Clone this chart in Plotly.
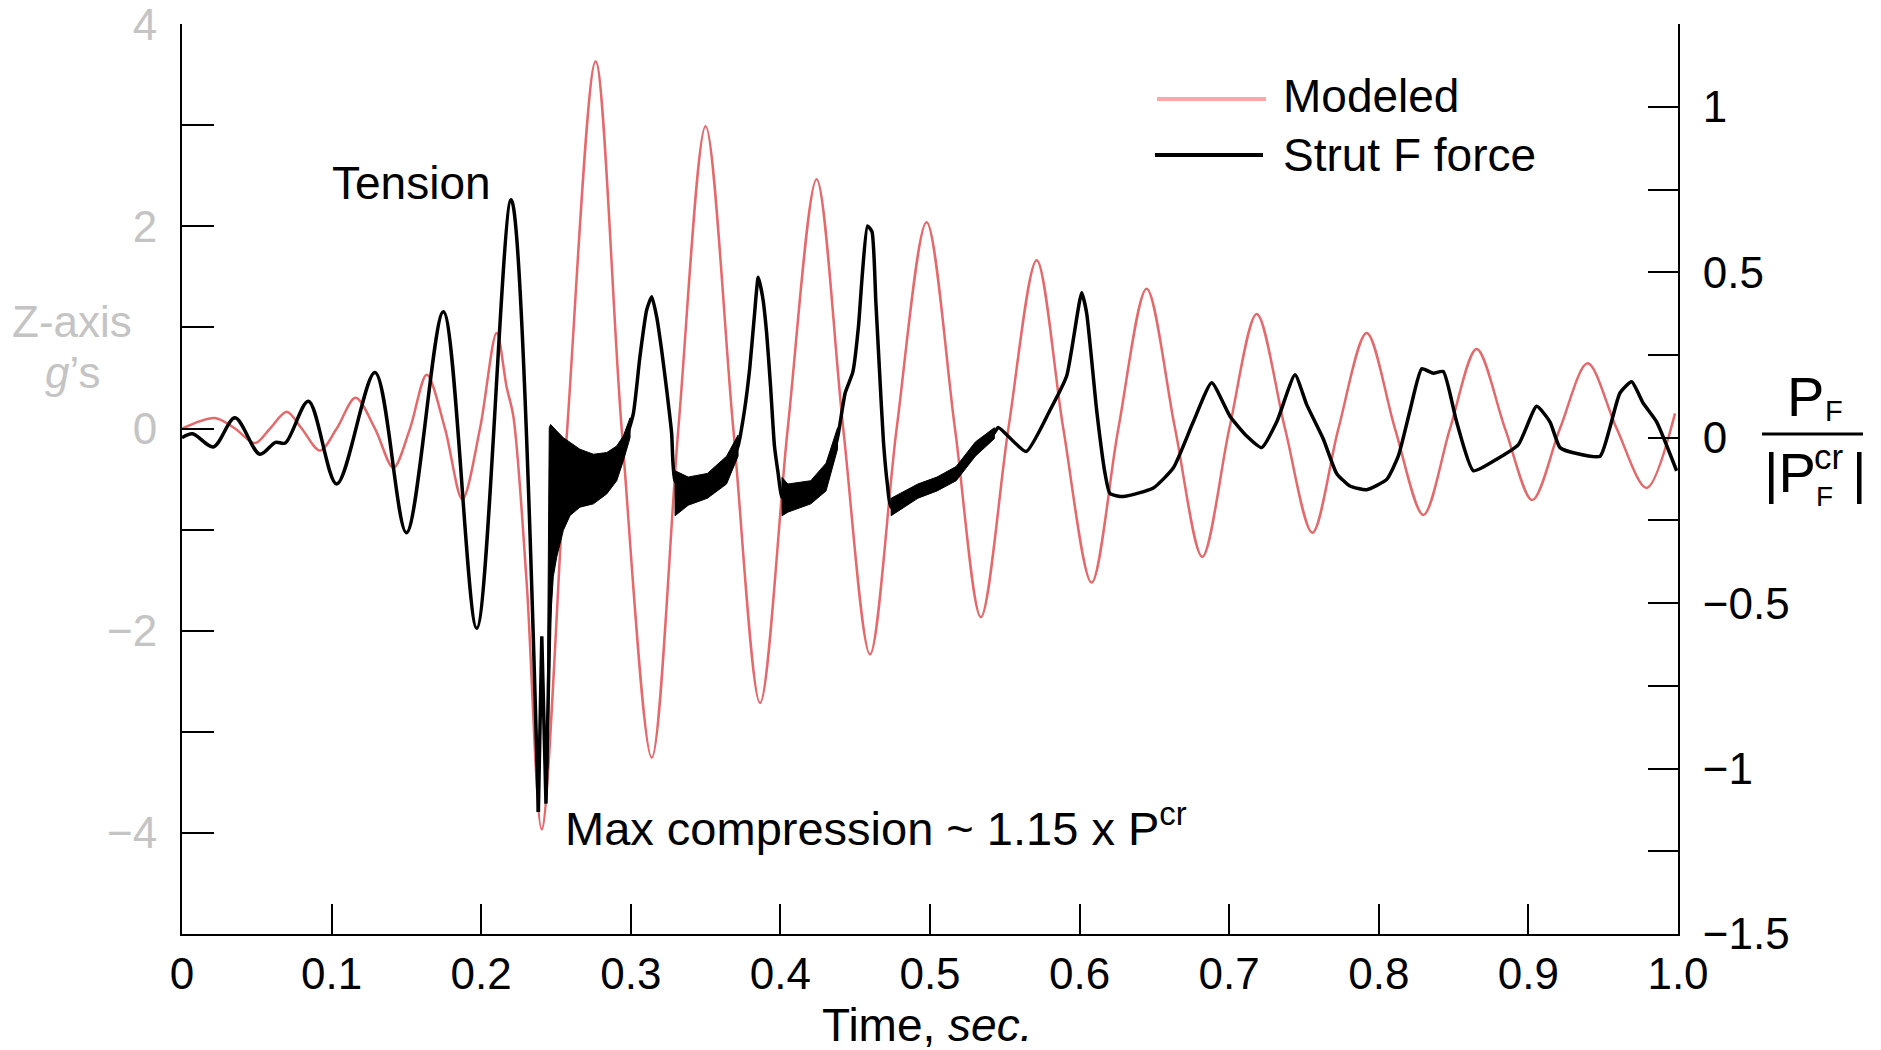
import plotly.graph_objects as go

W, H = 1881, 1050
L, R, T, B = 182, 1678, 24, 934
FONT = "Liberation Sans, Arial, Helvetica, sans-serif"
RED = "#e5686a"
GRAY = "#c4c4c4"

# ---------------- data ----------------
# Modeled response, Z-axis g's (left axis)
mod_t = [0.0, 0.022, 0.0354, 0.0488, 0.0588, 0.070, 0.080, 0.0922, 0.1034, 0.116,
         0.129, 0.1413, 0.1524, 0.1636, 0.1758, 0.1874, 0.1992, 0.2103, 0.2170, 0.2215,
         0.2304, 0.2404, 0.2575, 0.2765, 0.2939, 0.314, 0.3318, 0.350, 0.3685, 0.3864,
         0.4049, 0.4242, 0.442, 0.4599, 0.4777, 0.4977, 0.5167, 0.534, 0.5524, 0.5713,
         0.5891, 0.608, 0.6259, 0.6448, 0.6638, 0.682, 0.7001, 0.7184, 0.7373, 0.7556,
         0.773, 0.7919, 0.8108, 0.8298, 0.8476, 0.8654, 0.8844, 0.9026, 0.9211, 0.9396,
         0.959, 0.979, 0.998]
mod_g = [0.0, 0.105, 0.0, -0.144, 0.0, 0.167, 0.0, -0.218, 0.0, 0.304,
         0.0, -0.388, 0.0, 0.532, 0.0, -0.70, 0.0, 0.946, 0.41, 0.12,
         -1.525, -3.965, 0.0, 3.63, 0.0, -3.255, 0.0, 2.99, 0.0, -2.715,
         0.0, 2.467, 0.0, -2.234, 0.0, 2.04, 0.0, -1.865, 0.0, 1.666,
         0.0, -1.524, 0.0, 1.383, 0.0, -1.268, 0.0, 1.133, 0.0, -1.03,
         0.0, 0.946, 0.0, -0.854, 0.0, 0.787, 0.0, -0.707, 0.0, 0.645,
         0.0, -0.587, 0.15]

# Strut F force, P_F/|P_F^cr| (right axis) -- early smooth oscillation
strut_a_t = [0.0, 0.007, 0.021, 0.0354, 0.052, 0.0625, 0.069, 0.0845, 0.1034, 0.129,
             0.150, 0.1747, 0.197, 0.22, 0.2382]
strut_a_p = [0.0, 0.012, -0.028, 0.06, -0.05, -0.014, -0.016, 0.11, -0.14, 0.197,
             -0.287, 0.381, -0.576, 0.719, -1.131]

# Strut F force -- max-compression spikes
strut_b_t = [0.2382, 0.2405, 0.2433, 0.2450, 0.2470]
strut_b_p = [-1.131, -0.60, -1.106, -0.75, -0.30]

# Strut F force -- after max compression
strut_c_t = [0.2470, 0.2505, 0.260, 0.270, 0.280, 0.2883,
             0.295, 0.3017, 0.3061, 0.3106, 0.314, 0.3173, 0.3206, 0.324, 0.3273, 0.3296,
             0.3384, 0.3512, 0.364, 0.3717, 0.3760, 0.3795, 0.3826, 0.3852, 0.3883, 0.3908,
             0.3934, 0.396, 0.3985, 0.4011, 0.405, 0.4203, 0.4305, 0.4382, 0.4433, 0.4484,
             0.4522, 0.4548, 0.4582, 0.4612, 0.4638, 0.4663, 0.4689, 0.4715, 0.474, 0.4919,
             0.5047, 0.5175, 0.5303, 0.543, 0.5457, 0.5642, 0.5802, 0.5914, 0.6014, 0.6047,
             0.6114, 0.617, 0.6203, 0.6292, 0.6493, 0.6627, 0.676, 0.6883, 0.7005, 0.7117,
             0.7217, 0.7318, 0.744, 0.7518, 0.7629, 0.7718, 0.7807, 0.7919, 0.8053, 0.813,
             0.8209, 0.8287, 0.8364, 0.8431, 0.852, 0.8632, 0.8788, 0.8933, 0.9055, 0.9144,
             0.9211, 0.9323, 0.9479, 0.9545, 0.9612, 0.969, 0.9768, 0.9857, 0.9991]
strut_c_p = [-0.30, -0.18, -0.14, -0.125, -0.125, -0.10,
             -0.03, 0.073, 0.245, 0.386, 0.426, 0.365, 0.265, 0.144, 0.013, -0.13,
             -0.16, -0.145, -0.10, -0.025, 0.083, 0.21, 0.368, 0.485, 0.42, 0.316,
             0.156, -0.024, -0.108, -0.18, -0.18, -0.165, -0.12, 0.0, 0.135, 0.198,
             0.337, 0.496, 0.64, 0.623, 0.411, 0.198, -0.013, -0.14, -0.21, -0.16,
             -0.14, -0.108, -0.035, 0.015, 0.031, -0.042, 0.083, 0.187, 0.438, 0.377,
             0.083, -0.108, -0.169, -0.178, -0.152, -0.091, 0.048, 0.166, 0.065, 0.005,
             -0.03, 0.048, 0.19, 0.10, -0.004, -0.108, -0.146, -0.157, -0.126, -0.056,
             0.083, 0.208, 0.195, 0.20, 0.048, -0.10, -0.065, -0.021, 0.095, 0.048,
             -0.03, -0.048, -0.056, 0.031, 0.135, 0.169, 0.104, 0.048, -0.10]

# high-frequency chatter envelopes of the strut force (upper / lower edges)
chatA_t = [0.2445, 0.2455, 0.2464, 0.2482, 0.2505, 0.2549, 0.2594, 0.266, 0.275, 0.2839, 0.2906, 0.295, 0.2995]
chatA_hi = [-0.60, 0.03, 0.04, 0.03, 0.02, 0.0, -0.015, -0.035, -0.05, -0.045, -0.025, 0.005, 0.06]
chatA_lo = [-1.00, -0.75, -0.55, -0.42, -0.36, -0.28, -0.235, -0.21, -0.20, -0.17, -0.13, -0.07, 0.0]
chatB_t = [0.3296, 0.3384, 0.3512, 0.364, 0.3717]
chatB_hi = [-0.10, -0.119, -0.108, -0.056, 0.008]
chatB_lo = [-0.236, -0.204, -0.183, -0.14, -0.056]
chatC_t = [0.4011, 0.405, 0.4203, 0.4305, 0.4382]
chatC_hi = [-0.12, -0.14, -0.13, -0.077, 0.03]
chatC_lo = [-0.236, -0.225, -0.20, -0.161, -0.034]
chatD_t = [0.474, 0.4919, 0.5047, 0.5175, 0.5303, 0.543]
chatD_hi = [-0.183, -0.14, -0.119, -0.087, -0.013, 0.03]
chatD_lo = [-0.236, -0.183, -0.161, -0.13, -0.056, -0.003]

x_ticks = [0.0, 0.1, 0.2, 0.3, 0.4, 0.5, 0.6, 0.7, 0.8, 0.9, 1.0]
x_labels = ["0", "0.1", "0.2", "0.3", "0.4", "0.5", "0.6", "0.7", "0.8", "0.9", "1.0"]
g_ticks = [-4, -3, -2, -1, 0, 1, 2, 3, 4]
g_labels = ["\u22124", "", "\u22122", "", "0", "", "2", "", "4"]
p_ticks = [-1.5, -1.25, -1.0, -0.75, -0.5, -0.25, 0.0, 0.25, 0.5, 0.75, 1.0, 1.25]
p_labels = ["\u22121.5", "", "\u22121", "", "\u22120.5", "", "0", "", "0.5", "", "1", ""]

# ---------------- figure ----------------
fig = go.Figure()

band_x, band_y = [], []
for ts, hi, lo in [(chatA_t, chatA_hi, chatA_lo), (chatB_t, chatB_hi, chatB_lo),
                   (chatC_t, chatC_hi, chatC_lo), (chatD_t, chatD_hi, chatD_lo)]:
    band_x += ts + ts[::-1] + [ts[0], None]
    band_y += hi + lo[::-1] + [hi[0], None]

fig.add_trace(go.Scatter(x=band_x, y=band_y, yaxis="y2", mode="lines", fill="toself",
                         fillcolor="black", line=dict(color="black", width=1),
                         hoverinfo="skip", showlegend=False))
fig.add_trace(go.Scatter(x=strut_a_t, y=strut_a_p, yaxis="y2", mode="lines", name="Strut F force",
                         line=dict(color="black", width=3.5, shape="spline", smoothing=0.9),
                         showlegend=False))
fig.add_trace(go.Scatter(x=strut_b_t, y=strut_b_p, yaxis="y2", mode="lines", name="Strut F force",
                         line=dict(color="black", width=3.5), showlegend=False))
fig.add_trace(go.Scatter(x=strut_c_t, y=strut_c_p, yaxis="y2", mode="lines", name="Strut F force",
                         line=dict(color="black", width=3.5, shape="spline", smoothing=0.5),
                         showlegend=False))
fig.add_trace(go.Scatter(x=mod_t, y=mod_g, yaxis="y", mode="lines", name="Modeled",
                         line=dict(color=RED, width=2.5, shape="spline", smoothing=0.9),
                         showlegend=False))


def px(x):
    return (x - L) / (R - L)


def py(y):
    return (B - y) / (B - T)


def ann(text, x, y, size, xanchor="left", color="black", yanchor="middle"):
    return dict(text=text, x=px(x), y=py(y), xref="paper", yref="paper",
                xanchor=xanchor, yanchor=yanchor, showarrow=False,
                font=dict(family=FONT, size=size, color=color))


annotations = [
    ann("Tension", 330, 183, 46),
    ann("Max compression ~ 1.15 x P<sup>cr</sup>", 563, 825, 47),
    ann("Time, <i>sec.</i>", 927, 1025, 46, xanchor="center"),
    ann("Z-axis", 72, 322, 44, xanchor="center", color=GRAY),
    ann("<i>g</i>\u2019s", 72, 372, 44, xanchor="center", color=GRAY),
    ann("Modeled", 1281, 96, 46),
    ann("Strut F force", 1281, 155, 46),
    # right-axis fraction  P_F / |P_F^cr|
    ann("P", 1785, 396, 56),
    ann("F", 1823, 411, 29),
    ann("|P", 1762, 472, 56),
    ann("cr", 1812, 456, 35),
    ann("F", 1814, 497, 28),
    ann("|", 1850, 472, 56),
]

shapes = [
    dict(type="line", xref="paper", yref="paper", x0=px(1157), x1=px(1266), y0=py(99), y1=py(99),
         line=dict(color="#ffa6a6", width=4)),
    dict(type="line", xref="paper", yref="paper", x0=px(1155), x1=px(1263), y0=py(155), y1=py(155),
         line=dict(color="black", width=4)),
    dict(type="line", xref="paper", yref="paper", x0=px(1762), x1=px(1863), y0=py(434), y1=py(434),
         line=dict(color="black", width=3)),
]

fig.update_layout(
    width=W, height=H, autosize=False,
    margin=dict(l=L, r=W - R, t=T, b=H - B, pad=0, autoexpand=False),
    paper_bgcolor="white", plot_bgcolor="white",
    showlegend=False,
    font=dict(family=FONT, color="black"),
    xaxis=dict(range=[0, 1], tickvals=x_ticks, ticktext=x_labels, ticks="inside", ticklen=30,
               tickwidth=2, tickcolor="black", showline=True, linecolor="black", linewidth=2,
               showgrid=False, zeroline=False, tickfont=dict(size=44, color="black", family=FONT),
               ticklabelstandoff=0, ticklabeloverflow="allow", automargin=False),
    yaxis=dict(range=[-5, 4.002], tickvals=g_ticks, ticktext=g_labels, ticks="inside", ticklen=32,
               tickwidth=2, tickcolor="black", showline=True, linecolor="black", linewidth=2,
               showgrid=False, zeroline=False, tickfont=dict(size=44, color=GRAY, family=FONT),
               ticklabelstandoff=14, ticklabeloverflow="allow", automargin=False),
    yaxis2=dict(range=[-1.5, 1.2503], tickvals=p_ticks, ticktext=p_labels, ticks="inside", ticklen=30,
                tickwidth=2, tickcolor="black", showline=True, linecolor="black", linewidth=2,
                showgrid=False, zeroline=False, overlaying="y", side="right",
                tickfont=dict(size=44, color="black", family=FONT), ticklabelstandoff=14,
                ticklabeloverflow="allow", automargin=False),
    annotations=annotations,
    shapes=shapes,
)

fig.write_html("out.html")
